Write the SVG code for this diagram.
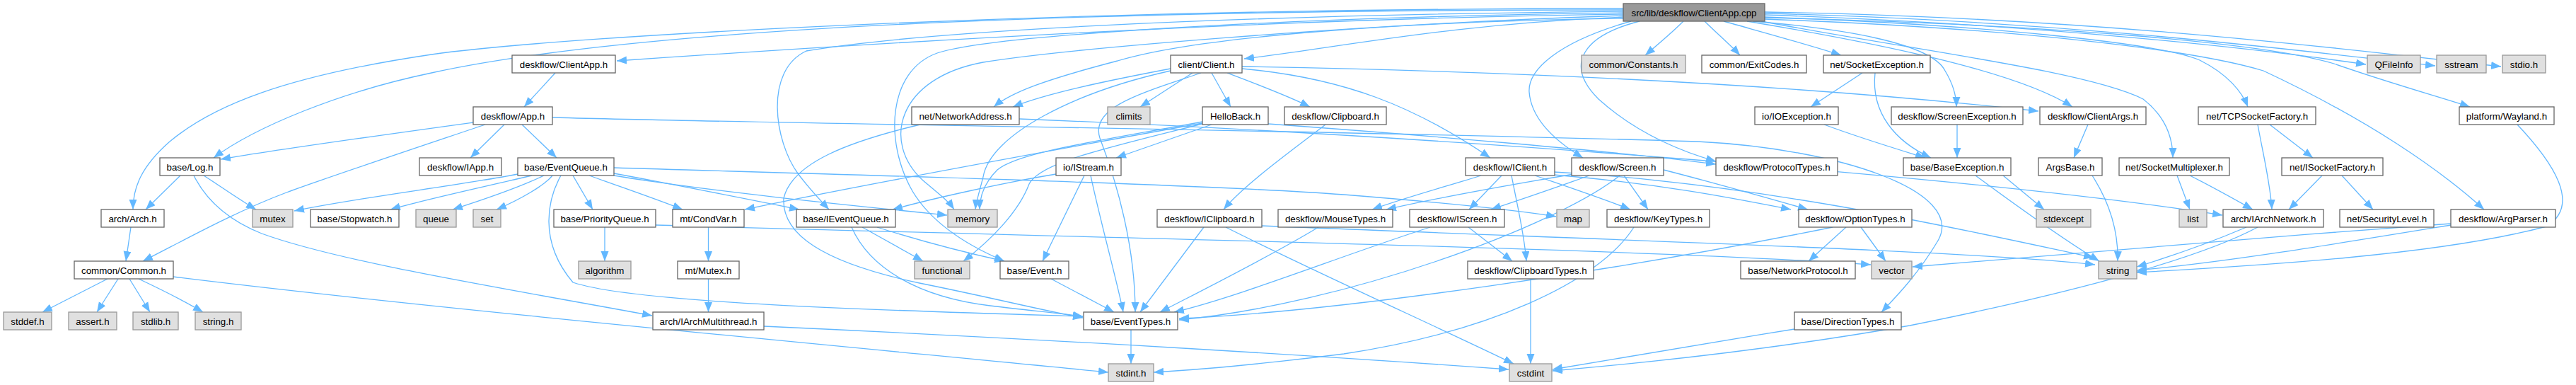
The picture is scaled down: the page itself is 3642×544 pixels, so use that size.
<svg xmlns="http://www.w3.org/2000/svg" width="3642" height="544" viewBox="0 0 3642 544">
<style>
.n rect{fill:#ffffff;stroke:#666666;stroke-width:1.3}
.s rect{fill:#e0e0e0;stroke:#999999;stroke-width:1.3}
.r rect{fill:#999999;stroke:#666666;stroke-width:1.3}
text{font-family:"Liberation Sans",Arial,Helvetica,sans-serif;font-size:13.33px;text-anchor:middle;fill:#000000}
#edges path{fill:none;stroke:#63b8ff;stroke-width:1.3;marker-end:url(#a)}
</style>
<defs>
<marker id="a" markerUnits="userSpaceOnUse" markerWidth="15" markerHeight="12" refX="14" refY="5.5" orient="auto"><path d="M0,0 L14,5.5 L0,11 z" fill="#63b8ff" stroke="none"/></marker>
</defs>
<rect width="3642" height="544" fill="#ffffff"/>
<g id="edges">
<path d="M2295,20 C1800,26 1250,60 872,86"/>
<path d="M2295,24 C2050,34 1900,66 1759,83"/>
<path d="M2380,30 C2365,45 2345,62 2326,78"/>
<path d="M2410,30 C2425,45 2445,62 2460,78"/>
<path d="M2437,30 C2490,45 2560,64 2603,78"/>
<path d="M2495,21 C2900,35 3200,70 3345,91"/>
<path d="M2495,19 C2950,30 3300,78 3443,93"/>
<path d="M2495,17 C3000,25 3400,80 3536,94"/>
<path d="M2295,14 C1500,14 900,40 610,103 C480,130 360,180 302,223"/>
<path d="M2295,12 C1500,12 800,50 610,77 C400,108 300,150 240,200 C200,235 188,265 188,296"/>
<path d="M2295,26 C2000,30 1700,50 1580,86 C1480,112 1430,130 1405,151"/>
<path d="M2295,16 C1700,22 1300,45 1140,72 C1080,100 1095,200 1128,245 C1145,268 1160,283 1172,296"/>
<path d="M2295,22 C1900,35 1500,70 1390,88 C1270,110 1245,200 1305,255 C1325,272 1340,283 1349,296"/>
<path d="M2295,18 C1800,25 1400,50 1325,75 C1255,100 1250,200 1290,270 C1320,320 1375,350 1420,369"/>
<path d="M2306,30 C2200,60 2160,100 2162,130 C2165,170 2200,200 2238,223"/>
<path d="M2318,30 C2240,50 2210,90 2260,140 C2310,185 2370,212 2426,228"/>
<path d="M2478,30 C2600,40 2730,60 2750,100 C2762,120 2766,135 2766,151"/>
<path d="M2470,30 C2650,60 2850,100 2930,151"/>
<path d="M2495,24 C2800,35 3050,60 3110,85 C3150,105 3170,130 3178,151"/>
<path d="M2490,30 C2700,70 2950,100 3030,140 C3062,165 3072,195 3072,223"/>
<path d="M2495,25 C2900,35 3200,60 3300,90 C3380,118 3450,137 3492,151"/>
<path d="M2495,27 C2850,40 3100,70 3200,100 C3350,170 3450,240 3512,296"/>
<path d="M785,103 L741,151"/>
<path d="M713,176 L665,223"/>
<path d="M738,176 L787,223"/>
<path d="M669,173 C560,188 400,210 312,225"/>
<path d="M686,176 C600,205 450,255 405,272 C330,300 250,345 202,369"/>
<path d="M781,166 C1200,177 1800,182 2400,200 C2600,210 2780,270 2740,340 C2710,390 2680,420 2660,441"/>
<path d="M255,248 L206,296"/>
<path d="M288,248 C310,262 335,280 362,296"/>
<path d="M274,248 C290,280 320,310 370,330 C480,370 700,405 922,446"/>
<path d="M185,321 L178,369"/>
<path d="M152,394 L60,441"/>
<path d="M167,394 L137,441"/>
<path d="M183,394 L212,441"/>
<path d="M196,394 C230,410 260,425 287,441"/>
<path d="M245,391 C600,435 1200,490 1567,526"/>
<path d="M732,246 C650,262 500,280 416,298"/>
<path d="M752,248 C680,265 600,282 552,296"/>
<path d="M769,248 C740,262 690,280 640,296"/>
<path d="M781,248 C770,262 735,282 702,296"/>
<path d="M793,248 C775,280 760,340 810,399 C900,430 1300,440 1531,447"/>
<path d="M810,248 L838,296"/>
<path d="M833,248 C880,265 930,282 965,296"/>
<path d="M868,245 C950,260 1050,280 1130,296"/>
<path d="M868,248 C1000,270 1200,290 1339,304"/>
<path d="M868,237 C1200,247 1700,260 1900,275 C2050,287 2150,298 2200,306"/>
<path d="M855,321 L855,369"/>
<path d="M927,318 C1500,335 2300,350 2645,374"/>
<path d="M1001.5,321 L1001.5,369"/>
<path d="M1001.5,394 L1001.5,441"/>
<path d="M1080,461 C1500,480 1900,505 2133,522"/>
<path d="M1219,321 L1305,369"/>
<path d="M1240,321 C1300,340 1370,358 1420,369"/>
<path d="M1204,321 C1230,380 1300,420 1400,432 C1450,438 1500,443 1531,447"/>
<path d="M1486,394 L1575,441"/>
<path d="M1599,466 L1599,514"/>
<path d="M1533,248 L1474,369"/>
<path d="M1542,248 C1555,310 1580,400 1588,441"/>
<path d="M1493,246 C1420,258 1320,280 1262,296"/>
<path d="M1713,176 L1578,223"/>
<path d="M1700,172 C1550,200 1440,215 1410,240 C1390,260 1385,280 1385,296"/>
<path d="M1700,174 C1500,210 1200,265 1053,296"/>
<path d="M1700,175 C1560,210 1470,230 1455,260 C1440,300 1400,340 1362,369"/>
<path d="M1793,175 C2000,190 2300,215 2426,232"/>
<path d="M1655,97 C1560,115 1480,132 1432,151"/>
<path d="M1686,103 L1612,151"/>
<path d="M1713,103 L1740,151"/>
<path d="M1698,103 C1620,130 1540,150 1555,195 C1580,260 1605,350 1605,441"/>
<path d="M1655,100 C1520,130 1400,190 1390,250 C1385,270 1380,285 1379,296"/>
<path d="M1735,103 C1780,120 1820,135 1852,151"/>
<path d="M1756,94 C2100,100 2500,115 2882,157"/>
<path d="M1756,97 C1900,110 2000,150 2107,223"/>
<path d="M1874,176 C1830,210 1760,260 1730,296"/>
<path d="M1702,321 L1612,441"/>
<path d="M1733,321 C1850,380 2050,470 2140,514"/>
<path d="M1783,319 C2300,340 2800,355 2962,374"/>
<path d="M2094,248 C2050,262 1990,278 1940,296"/>
<path d="M2123,248 L2077,296"/>
<path d="M2137,248 C2145,290 2155,330 2158,369"/>
<path d="M2170,248 C2220,265 2270,282 2305,296"/>
<path d="M2197,247 C2350,260 2450,280 2532,296"/>
<path d="M2197,243 C2500,260 2800,330 2960,364"/>
<path d="M2247,248 C2200,265 2150,282 2108,296"/>
<path d="M2225,246 C2130,262 2030,280 1960,296"/>
<path d="M2296,248 L2330,296"/>
<path d="M2352,240 C2430,260 2500,280 2556,296"/>
<path d="M2290,248 C2200,320 1900,430 1667,452"/>
<path d="M2076,321 L2138,369"/>
<path d="M2022,321 C1900,360 1750,420 1660,441"/>
<path d="M1864,321 C1800,360 1700,410 1640,441"/>
<path d="M2310,321 C2260,400 2100,470 1900,500 C1780,515 1700,522 1631,526"/>
<path d="M2164,394 L2164,514"/>
<path d="M2610,321 L2557,369"/>
<path d="M2631,321 L2666,369"/>
<path d="M2591,321 C2300,380 1900,440 1667,450"/>
<path d="M2537,465 C2400,487 2250,512 2195,522"/>
<path d="M2633,103 L2560,151"/>
<path d="M2651,103 C2645,160 2680,200 2730,223"/>
<path d="M2579,176 C2630,195 2680,210 2722,223"/>
<path d="M2767,176 L2767,223"/>
<path d="M2832,248 L2890,296"/>
<path d="M2793,248 C2850,290 2920,340 2968,369"/>
<path d="M2952,176 L2932,223"/>
<path d="M2958,248 C2985,290 2995,330 2994,369"/>
<path d="M3078,248 L3096,296"/>
<path d="M3096,248 C3130,265 3160,282 3185,296"/>
<path d="M3209,176 L3270,223"/>
<path d="M3192,176 C3200,220 3210,260 3212,296"/>
<path d="M3283,248 L3236,296"/>
<path d="M3311,248 L3355,296"/>
<path d="M3176,321 C3120,345 3060,365 3021,377"/>
<path d="M3192,321 C3100,370 2900,420 2700,460 C2500,495 2300,515 2195,524"/>
<path d="M3465,318 C3300,345 3150,370 3021,382"/>
<path d="M3465,316 C3200,335 2900,360 2704,377"/>
<path d="M3559,176 C3610,230 3650,290 3600,320 C3450,360 3200,375 3021,385"/>
<path d="M1301,176 C1200,200 1120,230 1108,280 C1105,330 1160,370 1300,400 C1400,420 1480,440 1531,449"/>
<path d="M1441,168 C2000,190 2800,250 3142,304"/>
</g>
<g id="n_root" class="r"><rect x="2295" y="5" width="200" height="25"/><text x="2395" y="22.5">src/lib/deskflow/ClientApp.cpp</text></g>
<g id="n_clientapp" class="n"><rect x="724" y="78" width="146" height="25"/><text x="797" y="95.5">deskflow/ClientApp.h</text></g>
<g id="n_client" class="n"><rect x="1655" y="78" width="101" height="25"/><text x="1705.5" y="95.5">client/Client.h</text></g>
<g id="n_constants" class="s"><rect x="2236" y="78" width="147" height="25"/><text x="2309.5" y="95.5">common/Constants.h</text></g>
<g id="n_exitcodes" class="n"><rect x="2406" y="78" width="148" height="25"/><text x="2480" y="95.5">common/ExitCodes.h</text></g>
<g id="n_sockexc" class="n"><rect x="2578" y="78" width="151" height="25"/><text x="2653.5" y="95.5">net/SocketException.h</text></g>
<g id="n_qfileinfo" class="s"><rect x="3347" y="78" width="75" height="25"/><text x="3384.5" y="95.5">QFileInfo</text></g>
<g id="n_sstream" class="s"><rect x="3445" y="78" width="70" height="25"/><text x="3480" y="95.5">sstream</text></g>
<g id="n_stdio" class="s"><rect x="3538" y="78" width="61" height="25"/><text x="3568.5" y="95.5">stdio.h</text></g>
<g id="n_app" class="n"><rect x="669" y="151" width="112" height="25"/><text x="725" y="168.5">deskflow/App.h</text></g>
<g id="n_netaddr" class="n"><rect x="1289" y="151" width="152" height="25"/><text x="1365" y="168.5">net/NetworkAddress.h</text></g>
<g id="n_climits" class="s"><rect x="1566" y="151" width="60" height="25"/><text x="1596" y="168.5">climits</text></g>
<g id="n_helloback" class="n"><rect x="1700" y="151" width="93" height="25"/><text x="1746.5" y="168.5">HelloBack.h</text></g>
<g id="n_clipboard" class="n"><rect x="1816" y="151" width="144" height="25"/><text x="1888" y="168.5">deskflow/Clipboard.h</text></g>
<g id="n_ioexc" class="n"><rect x="2481" y="151" width="118" height="25"/><text x="2540" y="168.5">io/IOException.h</text></g>
<g id="n_screenexc" class="n"><rect x="2674" y="151" width="186" height="25"/><text x="2767" y="168.5">deskflow/ScreenException.h</text></g>
<g id="n_clientargs" class="n"><rect x="2884" y="151" width="150" height="25"/><text x="2959" y="168.5">deskflow/ClientArgs.h</text></g>
<g id="n_tcpsf" class="n"><rect x="3108" y="151" width="166" height="25"/><text x="3191" y="168.5">net/TCPSocketFactory.h</text></g>
<g id="n_wayland" class="n"><rect x="3477" y="151" width="134" height="25"/><text x="3544" y="168.5">platform/Wayland.h</text></g>
<g id="n_log" class="n"><rect x="226" y="223" width="85" height="25"/><text x="268.5" y="240.5">base/Log.h</text></g>
<g id="n_iapp" class="n"><rect x="593" y="223" width="116" height="25"/><text x="651" y="240.5">deskflow/IApp.h</text></g>
<g id="n_eventqueue" class="n"><rect x="732" y="223" width="136" height="25"/><text x="800" y="240.5">base/EventQueue.h</text></g>
<g id="n_istream" class="n"><rect x="1493" y="223" width="92" height="25"/><text x="1539" y="240.5">io/IStream.h</text></g>
<g id="n_iclient" class="n"><rect x="2072" y="223" width="126" height="25"/><text x="2135" y="240.5">deskflow/IClient.h</text></g>
<g id="n_screen" class="n"><rect x="2222" y="223" width="130" height="25"/><text x="2287" y="240.5">deskflow/Screen.h</text></g>
<g id="n_prototypes" class="n"><rect x="2426" y="223" width="172" height="25"/><text x="2512" y="240.5">deskflow/ProtocolTypes.h</text></g>
<g id="n_baseexc" class="n"><rect x="2691" y="223" width="152" height="25"/><text x="2767" y="240.5">base/BaseException.h</text></g>
<g id="n_argsbase" class="n"><rect x="2882" y="223" width="90" height="25"/><text x="2927" y="240.5">ArgsBase.h</text></g>
<g id="n_sockmux" class="n"><rect x="2996" y="223" width="156" height="25"/><text x="3074" y="240.5">net/SocketMultiplexer.h</text></g>
<g id="n_isf" class="n"><rect x="3226" y="223" width="143" height="25"/><text x="3297.5" y="240.5">net/ISocketFactory.h</text></g>
<g id="n_arch" class="n"><rect x="143" y="296" width="89" height="25"/><text x="187.5" y="313.5">arch/Arch.h</text></g>
<g id="n_mutex" class="s"><rect x="357" y="296" width="57" height="25"/><text x="385.5" y="313.5">mutex</text></g>
<g id="n_stopwatch" class="n"><rect x="439" y="296" width="125" height="25"/><text x="501.5" y="313.5">base/Stopwatch.h</text></g>
<g id="n_queue" class="s"><rect x="588" y="296" width="57" height="25"/><text x="616.5" y="313.5">queue</text></g>
<g id="n_set" class="s"><rect x="669" y="296" width="39" height="25"/><text x="688.5" y="313.5">set</text></g>
<g id="n_pq" class="n"><rect x="783" y="296" width="144" height="25"/><text x="855" y="313.5">base/PriorityQueue.h</text></g>
<g id="n_condvar" class="n"><rect x="951" y="296" width="101" height="25"/><text x="1001.5" y="313.5">mt/CondVar.h</text></g>
<g id="n_ieq" class="n"><rect x="1126" y="296" width="140" height="25"/><text x="1196" y="313.5">base/IEventQueue.h</text></g>
<g id="n_memory" class="s"><rect x="1340" y="296" width="70" height="25"/><text x="1375" y="313.5">memory</text></g>
<g id="n_iclipboard" class="n"><rect x="1636" y="296" width="148" height="25"/><text x="1710" y="313.5">deskflow/IClipboard.h</text></g>
<g id="n_mousetypes" class="n"><rect x="1807" y="296" width="162" height="25"/><text x="1888" y="313.5">deskflow/MouseTypes.h</text></g>
<g id="n_iscreen" class="n"><rect x="1993" y="296" width="134" height="25"/><text x="2060" y="313.5">deskflow/IScreen.h</text></g>
<g id="n_map" class="s"><rect x="2201" y="296" width="46" height="25"/><text x="2224" y="313.5">map</text></g>
<g id="n_keytypes" class="n"><rect x="2272" y="296" width="145" height="25"/><text x="2344.5" y="313.5">deskflow/KeyTypes.h</text></g>
<g id="n_optiontypes" class="n"><rect x="2543" y="296" width="160" height="25"/><text x="2623" y="313.5">deskflow/OptionTypes.h</text></g>
<g id="n_stdexcept" class="s"><rect x="2879" y="296" width="77" height="25"/><text x="2917.5" y="313.5">stdexcept</text></g>
<g id="n_list" class="s"><rect x="3081" y="296" width="39" height="25"/><text x="3100.5" y="313.5">list</text></g>
<g id="n_iarchnet" class="n"><rect x="3143" y="296" width="142" height="25"/><text x="3214" y="313.5">arch/IArchNetwork.h</text></g>
<g id="n_seclevel" class="n"><rect x="3308" y="296" width="133" height="25"/><text x="3374.5" y="313.5">net/SecurityLevel.h</text></g>
<g id="n_argparser" class="n"><rect x="3465" y="296" width="148" height="25"/><text x="3539" y="313.5">deskflow/ArgParser.h</text></g>
<g id="n_common" class="n"><rect x="105" y="369" width="140" height="25"/><text x="175" y="386.5">common/Common.h</text></g>
<g id="n_algorithm" class="s"><rect x="818" y="369" width="74" height="25"/><text x="855" y="386.5">algorithm</text></g>
<g id="n_mtmutex" class="n"><rect x="958" y="369" width="87" height="25"/><text x="1001.5" y="386.5">mt/Mutex.h</text></g>
<g id="n_functional" class="s"><rect x="1293" y="369" width="78" height="25"/><text x="1332" y="386.5">functional</text></g>
<g id="n_event" class="n"><rect x="1414" y="369" width="97" height="25"/><text x="1462.5" y="386.5">base/Event.h</text></g>
<g id="n_cliptypes" class="n"><rect x="2075" y="369" width="178" height="25"/><text x="2164" y="386.5">deskflow/ClipboardTypes.h</text></g>
<g id="n_netproto" class="n"><rect x="2461" y="369" width="162" height="25"/><text x="2542" y="386.5">base/NetworkProtocol.h</text></g>
<g id="n_vector" class="s"><rect x="2646" y="369" width="57" height="25"/><text x="2674.5" y="386.5">vector</text></g>
<g id="n_string" class="s"><rect x="2967" y="369" width="54" height="25"/><text x="2994" y="386.5">string</text></g>
<g id="n_stddef" class="s"><rect x="5" y="441" width="68" height="25"/><text x="39" y="458.5">stddef.h</text></g>
<g id="n_assert" class="s"><rect x="97" y="441" width="68" height="25"/><text x="131" y="458.5">assert.h</text></g>
<g id="n_stdlib" class="s"><rect x="188" y="441" width="64" height="25"/><text x="220" y="458.5">stdlib.h</text></g>
<g id="n_stringh" class="s"><rect x="276" y="441" width="65" height="25"/><text x="308.5" y="458.5">string.h</text></g>
<g id="n_iam" class="n"><rect x="923" y="441" width="157" height="25"/><text x="1001.5" y="458.5">arch/IArchMultithread.h</text></g>
<g id="n_eventtypes" class="n"><rect x="1532" y="441" width="133" height="25"/><text x="1598.5" y="458.5">base/EventTypes.h</text></g>
<g id="n_dirtypes" class="n"><rect x="2537" y="441" width="151" height="25"/><text x="2612.5" y="458.5">base/DirectionTypes.h</text></g>
<g id="n_stdint" class="s"><rect x="1567" y="514" width="64" height="25"/><text x="1599" y="531.5">stdint.h</text></g>
<g id="n_cstdint" class="s"><rect x="2134" y="514" width="60" height="25"/><text x="2164" y="531.5">cstdint</text></g>
</svg>
